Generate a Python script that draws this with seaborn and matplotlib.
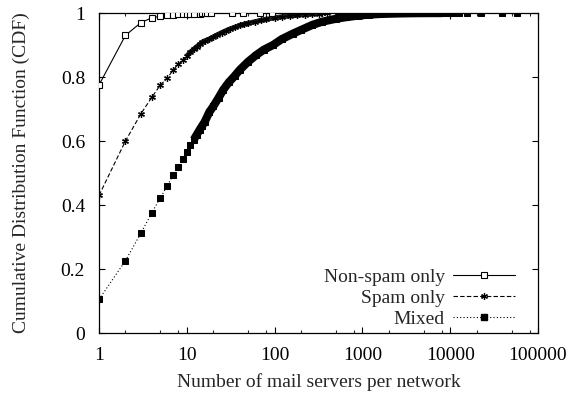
import matplotlib
matplotlib.use("Agg")
import matplotlib.pyplot as plt
import seaborn as sns
from matplotlib.lines import Line2D
from matplotlib.ticker import FixedLocator, FixedFormatter, NullFormatter

# Number of mail servers per network and the CDF at that count
nonspam_servers = [1, 2, 3, 4, 5, 6, 7, 8, 9, 10, 11, 12, 14, 15, 16, 17, 19, 33, 44, 68, 93]
nonspam_cdf = [0.775, 0.93, 0.97, 0.985, 0.99, 0.993, 0.995, 0.996, 0.997, 0.997, 0.998,
               0.998, 0.998, 0.999, 0.999, 0.999, 0.999, 0.9995, 0.9997, 0.9998, 1.0]

spam_servers = [1, 2, 3, 4, 5, 6, 7, 8, 9, 10, 11, 12, 13, 14, 15, 16, 18, 20, 22, 25, 28,
                31, 35, 40, 45, 50, 60, 70, 80, 100, 120, 150, 180, 220, 270, 320, 350,
                400, 530, 1270]
spam_cdf = [0.43, 0.60, 0.685, 0.737, 0.775, 0.797, 0.822, 0.84, 0.853, 0.866, 0.877, 0.887,
            0.895, 0.902, 0.908, 0.913, 0.918, 0.925, 0.931, 0.939, 0.945, 0.95, 0.955,
            0.961, 0.965, 0.968, 0.973, 0.977, 0.98, 0.985, 0.988, 0.991, 0.993, 0.995,
            0.997, 0.998, 0.9985, 0.999, 0.9995, 1.0]

mixed_servers = [1, 2, 3, 4, 5, 6, 7, 8, 9, 10, 11, 12, 13, 14, 15, 16, 18, 20, 23, 26, 30,
                 35, 40, 50, 62, 75, 96, 120, 160, 200, 270, 350, 500, 650, 900, 1200, 1600,
                 2500, 3700, 5000, 8100, 9000, 10000, 11000, 12700, 15500, 22400, 39000, 57000]
mixed_cdf = [0.105, 0.226, 0.312, 0.376, 0.423, 0.46, 0.494, 0.519, 0.544, 0.566, 0.586,
             0.604, 0.62, 0.635, 0.648, 0.66, 0.69, 0.708, 0.735, 0.76, 0.783, 0.803, 0.822,
             0.848, 0.869, 0.885, 0.90, 0.918, 0.935, 0.947, 0.963, 0.973, 0.982, 0.987,
             0.992, 0.995, 0.997, 0.9985, 0.9993, 0.9996, 0.9998, 0.9999, 0.9999, 0.9999,
             1.0, 1.0, 1.0, 1.0, 1.0]

series_labels = ["Non-spam only", "Spam only", "Mixed"]
x_tick_values = [1, 10, 100, 1000, 10000, 100000]
x_tick_labels = ["1", "10", "100", "1000", "10000", "100000"]
y_tick_values = [0, 0.2, 0.4, 0.6, 0.8, 1.0]
y_tick_labels = ["0", "0.2", "0.4", "0.6", "0.8", "1"]

FS = 14

sns.set_style("ticks")
plt.rcParams["font.family"] = ["Liberation Serif", "DejaVu Serif"]
plt.rcParams["font.size"] = FS
plt.rcParams["axes.linewidth"] = 0.9

fig = plt.figure(figsize=(5.72, 3.94), dpi=100)
ax = fig.add_axes([0.1731, 0.1548, 0.7675, 0.8122])

dotted = (0, (1, 2))
dashed = (0, (4, 2))
ms = 4.3

# dense runs of overlapping points, drawn as a thick band
mix_dense = [(x, y) for x, y in zip(mixed_servers, mixed_cdf) if 12 <= x <= 8100]
sns.lineplot(x=[p[0] for p in mix_dense], y=[p[1] for p in mix_dense], ax=ax,
             color="black", lw=5.9, solid_capstyle="butt", errorbar=None, zorder=2)
spam_dense = [(x, y) for x, y in zip(spam_servers, spam_cdf) if 10 <= x <= 350]
sns.lineplot(x=[p[0] for p in spam_dense], y=[p[1] for p in spam_dense], ax=ax,
             color="#262626", lw=3.6, solid_capstyle="butt", errorbar=None, zorder=2)

sns.lineplot(x=nonspam_servers, y=nonspam_cdf, ax=ax, color="black", lw=0.8,
             linestyle="-", marker="s", mfc="white", mec="black", mew=0.8, ms=ms,
             errorbar=None, zorder=3)
sns.lineplot(x=spam_servers, y=spam_cdf, ax=ax, color="black", lw=0.8,
             linestyle=dashed, marker=(6, 2, 0), mec="black", mew=0.9, ms=ms + 0.6,
             errorbar=None, zorder=3)
sns.lineplot(x=mixed_servers, y=mixed_cdf, ax=ax, color="black", lw=0.8,
             linestyle=dotted, marker="s", mfc="black", mec="black", ms=ms,
             errorbar=None, zorder=3)

ax.set_xscale("log")
ax.set_xlim(1, 100000)
ax.set_ylim(0, 1)

ax.xaxis.set_major_locator(FixedLocator(x_tick_values))
ax.xaxis.set_major_formatter(FixedFormatter(x_tick_labels))
minor = [m * 10 ** d for d in range(5) for m in (2, 5, 8)]
ax.xaxis.set_minor_locator(FixedLocator(minor))
ax.xaxis.set_minor_formatter(NullFormatter())
ax.yaxis.set_major_locator(FixedLocator(y_tick_values))
ax.yaxis.set_major_formatter(FixedFormatter(y_tick_labels))

ax.tick_params(which="major", direction="in", length=4, width=0.8, top=True, right=True,
               colors="black", labelsize=FS)
ax.tick_params(axis="y", which="major", pad=10)
ax.tick_params(axis="x", which="major", pad=10)
ax.tick_params(which="minor", direction="in", length=2, width=0.8, top=True, right=True)
for s in ax.spines.values():
    s.set_visible(True)
    s.set_color("black")

ax.set_xlabel("Number of mail servers per network", fontsize=FS, labelpad=7)
ax.set_ylabel("Cumulative Distribution Function (CDF)", fontsize=FS, labelpad=22)

handles = [
    Line2D([], [], color="black", lw=0.8, ls="-", marker="s", mfc="white", mec="black",
           mew=0.8, ms=ms),
    Line2D([], [], color="black", lw=0.8, ls=dashed, marker=(6, 2, 0), mec="black",
           mew=0.9, ms=ms + 0.6),
    Line2D([], [], color="black", lw=0.8, ls=dotted, marker="s", mfc="black", mec="black",
           ms=ms),
]
ax.legend(handles, series_labels, loc="lower right", markerfirst=False, frameon=False,
          handlelength=3.2, handletextpad=0.4, labelspacing=0.18, borderpad=0,
          borderaxespad=0, fontsize=FS,
          bbox_to_anchor=(515 / 572, 66 / 394), bbox_transform=fig.transFigure)

fig.savefig("out.png", dpi=100)
